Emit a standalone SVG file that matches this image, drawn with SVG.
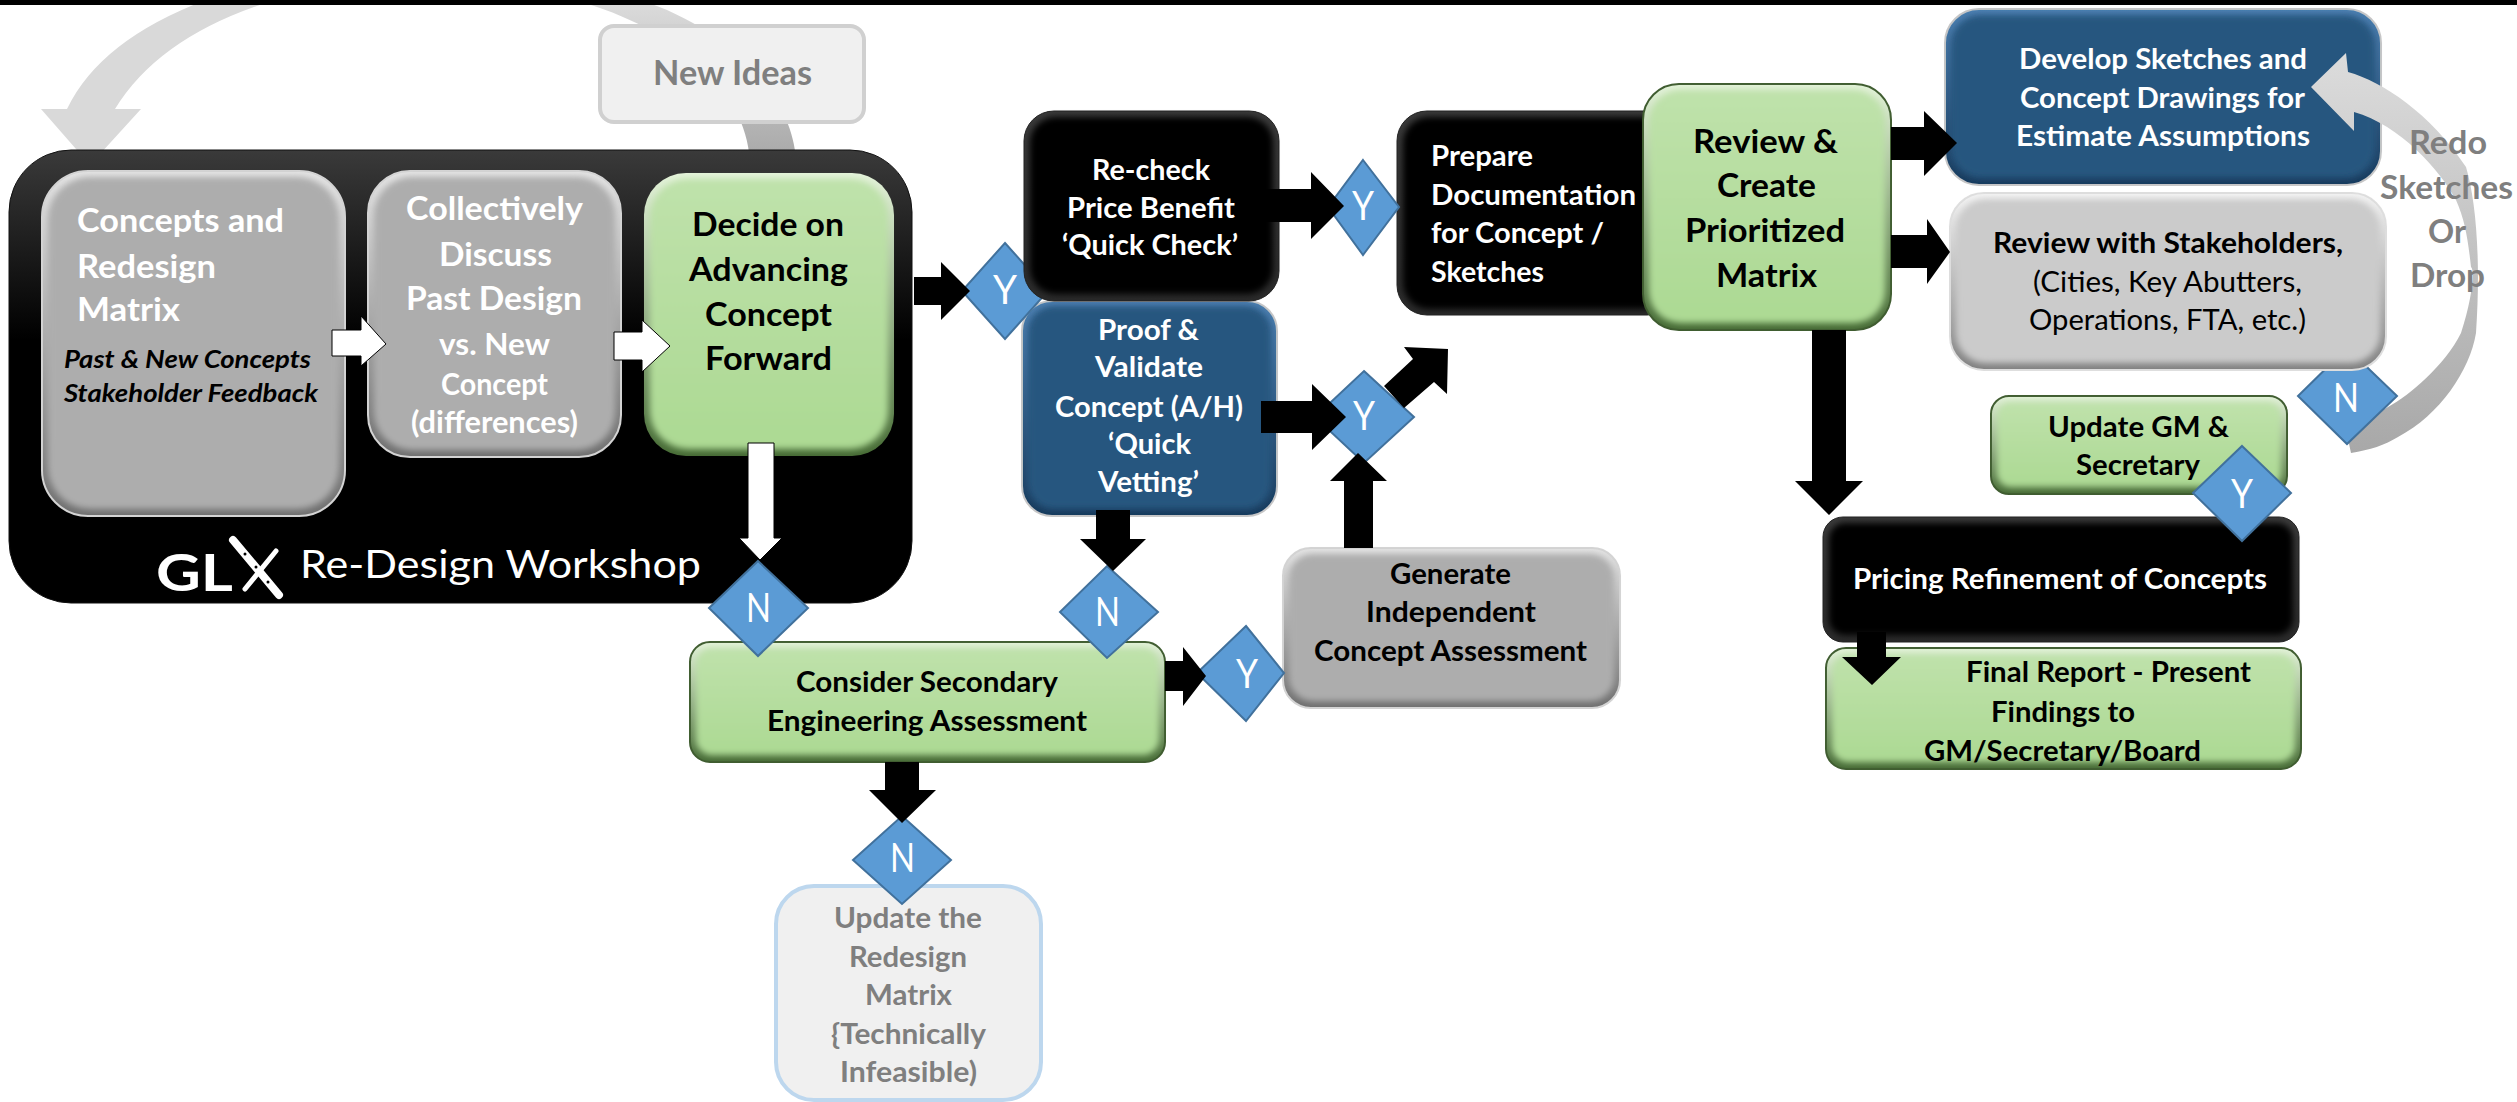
<svg xmlns="http://www.w3.org/2000/svg" width="2517" height="1102" viewBox="0 0 2517 1102">
<defs>
<style>
text{font-family:"Lato","Liberation Sans",sans-serif;font-weight:700;text-anchor:start}
.s26{font-size:28px}.s28{font-size:29.5px}.s31{font-size:33px}.s32{font-size:34px}.s23{font-size:24.5px;font-style:italic}
.wt{fill:#fff}.bk{fill:#000}.gy{fill:#7f7f7f}.rg{font-weight:400}
.lt{font-size:41px;font-weight:400;fill:#fff}
.face{filter:url(#soft)}
.d{fill:#5b9bd5;stroke:#41719c;stroke-width:2}
.k{fill:#000}.w{fill:#fff;stroke:#000;stroke-width:1}
.gEdge{fill:url(#eGray);stroke:#d4d4d4;stroke-width:2}.gFace{fill:#adadad}
.lEdge{fill:url(#eLight);stroke:#dedede;stroke-width:2}.lFace{fill:#cbcbcb}
.nEdge{fill:url(#eGreen);stroke:#3f5c30;stroke-width:2}.nFace{fill:url(#fGreen)}
.bEdge{fill:url(#eBlue);stroke:#c8c8c8;stroke-width:2}.bFace{fill:#27567f}
.xEdge{fill:url(#eBlack);stroke:#222;stroke-width:1}.xFace{fill:#000}
</style>
<filter id="soft" x="-10%" y="-10%" width="120%" height="120%"><feGaussianBlur stdDeviation="3"/></filter>
<linearGradient id="eGray" x1="0" y1="0" x2="0" y2="1"><stop offset="0" stop-color="#e4e4e4"/><stop offset="1" stop-color="#6f6f6f"/></linearGradient>
<linearGradient id="eLight" x1="0" y1="0" x2="0" y2="1"><stop offset="0" stop-color="#f4f4f4"/><stop offset="1" stop-color="#808080"/></linearGradient>
<linearGradient id="eGreen" x1="0" y1="0" x2="0" y2="1"><stop offset="0" stop-color="#e4f3da"/><stop offset="1" stop-color="#466b35"/></linearGradient>
<linearGradient id="fGreen" x1="0" y1="0" x2="0" y2="1"><stop offset="0" stop-color="#bfe2ab"/><stop offset="1" stop-color="#acd993"/></linearGradient>
<linearGradient id="eBlue" x1="0" y1="0" x2="0" y2="1"><stop offset="0" stop-color="#4d80b2"/><stop offset="1" stop-color="#173a5c"/></linearGradient>
<linearGradient id="eBlack" x1="0" y1="0" x2="0" y2="1"><stop offset="0" stop-color="#3a3a3a"/><stop offset="1" stop-color="#2a2a2a"/></linearGradient>
<linearGradient id="wsFill" x1="0" y1="0" x2="0" y2="1"><stop offset="0" stop-color="#3a3a3a"/><stop offset="0.42" stop-color="#000"/><stop offset="1" stop-color="#000"/></linearGradient>
<linearGradient id="arc" x1="0" y1="0" x2="0" y2="1"><stop offset="0" stop-color="#dcdcdc"/><stop offset="1" stop-color="#a8a8a8"/></linearGradient>
</defs>
<rect width="2517" height="1102" fill="#fff"/>
<g id="connectors-back">
<path d="M206,0 Q100,40 67,109 L41,109 L90,165 L141,109 L115,109 Q160,35 275,0 Z" fill="#d9d9d9"/>
<path d="M575,0 C680,30 745,90 750,160 L796,160 C792,90 720,25 640,0 Z" fill="url(#arc)"/>
</g>
<rect id="top-bar" x="0" y="0" width="2517" height="5" fill="#000"/>

<g id="node-workshop">
<rect x="9" y="150" width="903" height="453" rx="62" fill="url(#wsFill)" stroke="#111"/>
<text x="156" y="591" font-size="52" class="wt" textLength="77" lengthAdjust="spacingAndGlyphs">GL</text>
<line x1="233" y1="540" x2="279" y2="595" stroke="#fff" stroke-width="8" stroke-linecap="round"/>
<line x1="276" y1="551" x2="245" y2="589" stroke="#fff" stroke-width="5" stroke-linecap="round"/>
<circle cx="245" cy="554" r="1.5" fill="#000"/><circle cx="256" cy="567" r="1.5" fill="#000"/><circle cx="268" cy="582" r="1.5" fill="#000"/>
<text x="300" y="578" font-size="39" class="wt rg" textLength="401" lengthAdjust="spacingAndGlyphs">Re-Design Workshop</text>
</g>
<g id="node-new-ideas">
<rect x="600" y="26" width="264" height="96" rx="14" fill="#f0f0f0" stroke="#d0d0d0" stroke-width="4"/>
<text x="653" y="85" class="s32 gy" textLength="159" lengthAdjust="spacingAndGlyphs">New Ideas</text>
</g>
<g id="node-concepts">
<rect class="gEdge" x="42" y="171" width="303" height="345" rx="46"/><rect class="gFace face" x="48" y="177" width="291" height="332" rx="42"/>
<text x="77" y="232" class="s31 wt" textLength="207" lengthAdjust="spacingAndGlyphs">Concepts and</text>
<text x="77" y="278" class="s31 wt" textLength="139" lengthAdjust="spacingAndGlyphs">Redesign</text>
<text x="77" y="321" class="s31 wt" textLength="103" lengthAdjust="spacingAndGlyphs">Matrix</text>
<text x="64" y="368" class="s23 bk" textLength="247" lengthAdjust="spacingAndGlyphs">Past &amp; New Concepts</text>
<text x="64" y="402" class="s23 bk" textLength="254" lengthAdjust="spacingAndGlyphs">Stakeholder Feedback</text>
</g>
<g id="node-discuss">
<rect class="gEdge" x="368" y="171" width="253" height="286" rx="42"/><rect class="gFace face" x="374" y="177" width="241" height="273" rx="38"/>
<text x="406" y="220" class="s31 wt" textLength="177" lengthAdjust="spacingAndGlyphs">Collectively</text>
<text x="439" y="266" class="s31 wt" textLength="113" lengthAdjust="spacingAndGlyphs">Discuss</text>
<text x="406" y="310" class="s31 wt" textLength="176" lengthAdjust="spacingAndGlyphs">Past Design</text>
<text x="439" y="355" class="s28 wt" textLength="111" lengthAdjust="spacingAndGlyphs">vs. New</text>
<text x="441" y="395" class="s28 wt" textLength="107" lengthAdjust="spacingAndGlyphs">Concept</text>
<text x="411" y="433" class="s28 wt" textLength="167" lengthAdjust="spacingAndGlyphs">(differences)</text>
</g>
<g id="node-decide">
<rect class="nEdge" x="644" y="173" width="250" height="283" rx="42" style="stroke:none"/><rect class="nFace face" x="650" y="179" width="238" height="270" rx="38"/>
<text x="692" y="236" class="s31 bk" textLength="152" lengthAdjust="spacingAndGlyphs">Decide on</text>
<text x="689" y="281" class="s31 bk" textLength="159" lengthAdjust="spacingAndGlyphs">Advancing</text>
<text x="705" y="326" class="s31 bk" textLength="127" lengthAdjust="spacingAndGlyphs">Concept</text>
<text x="705" y="370" class="s31 bk" textLength="127" lengthAdjust="spacingAndGlyphs">Forward</text>
</g>
<g id="node-proof">
<rect class="bEdge" x="1022" y="301" width="255" height="215" rx="30"/><rect class="bFace face" x="1028" y="306" width="243" height="203" rx="26"/>
<text x="1098" y="340" class="s26 wt" textLength="101" lengthAdjust="spacingAndGlyphs">Proof &amp;</text>
<text x="1095" y="377" class="s26 wt" textLength="108" lengthAdjust="spacingAndGlyphs">Validate</text>
<text x="1055" y="417" class="s26 wt" textLength="188" lengthAdjust="spacingAndGlyphs">Concept (A/H)</text>
<text x="1108" y="454" class="s26 wt" textLength="83" lengthAdjust="spacingAndGlyphs">‘Quick</text>
<text x="1098" y="492" class="s26 wt" textLength="101" lengthAdjust="spacingAndGlyphs">Vetting’</text>
</g>
<g id="node-prepare">
<rect class="xEdge" x="1397" y="111" width="280" height="204" rx="30"/><rect class="xFace face" x="1403" y="117" width="268" height="192" rx="26"/>
<text x="1431" y="166" class="s26 wt" textLength="102" lengthAdjust="spacingAndGlyphs">Prepare</text>
<text x="1431" y="205" class="s26 wt" textLength="205" lengthAdjust="spacingAndGlyphs">Documentation</text>
<text x="1431" y="243" class="s26 wt" textLength="173" lengthAdjust="spacingAndGlyphs">for Concept /</text>
<text x="1431" y="282" class="s26 wt" textLength="113" lengthAdjust="spacingAndGlyphs">Sketches</text>
</g>
<g id="node-review">
<rect class="nEdge" x="1643" y="84" width="248" height="246" rx="36"/><rect class="nFace face" x="1649" y="90" width="236" height="233" rx="32"/>
<text x="1693" y="153" class="s31 bk" textLength="145" lengthAdjust="spacingAndGlyphs">Review &amp;</text>
<text x="1717" y="197" class="s31 bk" textLength="99" lengthAdjust="spacingAndGlyphs">Create</text>
<text x="1685" y="242" class="s31 bk" textLength="160" lengthAdjust="spacingAndGlyphs">Prioritized</text>
<text x="1716" y="287" class="s31 bk" textLength="101" lengthAdjust="spacingAndGlyphs">Matrix</text>
</g>
<g id="node-develop">
<rect class="bEdge" x="1945" y="9" width="436" height="176" rx="34"/><rect class="bFace face" x="1951" y="15" width="424" height="163" rx="30"/>
<text x="2019" y="69" class="s26 wt" textLength="288" lengthAdjust="spacingAndGlyphs">Develop Sketches and</text>
<text x="2020" y="108" class="s26 wt" textLength="285" lengthAdjust="spacingAndGlyphs">Concept Drawings for</text>
<text x="2016" y="146" class="s26 wt" textLength="294" lengthAdjust="spacingAndGlyphs">Estimate Assumptions</text>
</g>
<g id="connector-redo">
<path d="M2311,87 L2346,53 L2348,72 C2383,82 2430,113 2466,167 C2476,200 2481,260 2476,333 C2470,370 2440,415 2398,437 C2385,445 2370,450 2351,453 L2346,430 L2388,407 C2410,395 2445,365 2461,333 C2472,300 2475,270 2471,267 C2468,240 2465,220 2456,200 C2440,170 2400,125 2354,112 L2354,131 Z" fill="url(#arc)"/>
</g>
<g id="decision-n4"><polygon class="d" points="2347,348 2397,396 2347,444 2298,396"/><text x="2333" y="412" class="lt" textLength="26" lengthAdjust="spacingAndGlyphs">N</text></g>
<g id="node-stakeholders">
<rect class="lEdge" x="1950" y="193" width="436" height="177" rx="34"/><rect class="lFace face" x="1956" y="199" width="424" height="164" rx="30"/>
<text x="1993" y="253" class="s26 bk" textLength="350" lengthAdjust="spacingAndGlyphs">Review with Stakeholders,</text>
<text x="2033" y="292" class="s26 bk rg" textLength="269" lengthAdjust="spacingAndGlyphs">(Cities, Key Abutters,</text>
<text x="2029" y="330" class="s26 bk rg" textLength="277" lengthAdjust="spacingAndGlyphs">Operations, FTA, etc.)</text>
</g>
<g id="node-update-gm">
<rect class="nEdge" x="1991" y="396" width="296" height="98" rx="18"/><rect class="nFace face" x="1997" y="402" width="284" height="85" rx="14"/>
<text x="2048" y="437" class="s26 bk" textLength="181" lengthAdjust="spacingAndGlyphs">Update GM &amp;</text>
<text x="2076" y="475" class="s26 bk" textLength="124" lengthAdjust="spacingAndGlyphs">Secretary</text>
</g>
<g id="node-pricing">
<rect class="xEdge" x="1823" y="517" width="476" height="125" rx="20"/><rect class="xFace face" x="1829" y="523" width="464" height="112" rx="16"/>
<text x="1853" y="589" class="s26 wt" textLength="414" lengthAdjust="spacingAndGlyphs">Pricing Refinement of Concepts</text>
</g>
<g id="node-final">
<rect class="nEdge" x="1826" y="648" width="475" height="121" rx="20"/><rect class="nFace face" x="1832" y="654" width="463" height="108" rx="16"/>
<text x="1966" y="682" class="s26 bk" textLength="285" lengthAdjust="spacingAndGlyphs">Final Report - Present</text>
<text x="1991" y="722" class="s26 bk" textLength="144" lengthAdjust="spacingAndGlyphs">Findings to</text>
<text x="1924" y="761" class="s26 bk" textLength="277" lengthAdjust="spacingAndGlyphs">GM/Secretary/Board</text>
</g>
<g id="node-consider">
<rect class="nEdge" x="690" y="642" width="475" height="120" rx="20"/><rect class="nFace face" x="696" y="648" width="463" height="107" rx="16"/>
<text x="796" y="692" class="s26 bk" textLength="262" lengthAdjust="spacingAndGlyphs">Consider Secondary</text>
<text x="767" y="731" class="s26 bk" textLength="320" lengthAdjust="spacingAndGlyphs">Engineering Assessment</text>
</g>
<g id="node-generate">
<rect class="gEdge" x="1283" y="548" width="337" height="160" rx="28"/><rect class="gFace face" x="1289" y="554" width="325" height="147" rx="24"/>
<text x="1390" y="584" class="s26 bk" textLength="121" lengthAdjust="spacingAndGlyphs">Generate</text>
<text x="1366" y="622" class="s26 bk" textLength="170" lengthAdjust="spacingAndGlyphs">Independent</text>
<text x="1314" y="661" class="s26 bk" textLength="273" lengthAdjust="spacingAndGlyphs">Concept Assessment</text>
</g>
<g id="node-update-matrix">
<rect x="776" y="886" width="265" height="214" rx="38" fill="#f0f0f0" stroke="#bdd7ee" stroke-width="4"/>
<text x="834" y="928" class="s26 gy" textLength="148" lengthAdjust="spacingAndGlyphs">Update the</text>
<text x="849" y="967" class="s26 gy" textLength="118" lengthAdjust="spacingAndGlyphs">Redesign</text>
<text x="865" y="1005" class="s26 gy" textLength="87" lengthAdjust="spacingAndGlyphs">Matrix</text>
<text x="831" y="1044" class="s26 gy" textLength="155" lengthAdjust="spacingAndGlyphs">{Technically</text>
<text x="840" y="1082" class="s26 gy" textLength="137" lengthAdjust="spacingAndGlyphs">Infeasible)</text>
</g>
<g id="decision-y1"><polygon class="d" points="1005,243 1048,291 1005,339 962,291"/><text x="993" y="304" class="lt" textLength="24" lengthAdjust="spacingAndGlyphs">Y</text></g>
<g id="decision-y2"><polygon class="d" points="1363,160 1399,207 1363,255 1328,207"/><text x="1352" y="220" class="lt" textLength="22" lengthAdjust="spacingAndGlyphs">Y</text></g>
<g id="decision-y3"><polygon class="d" points="1364,371 1414,417 1364,463 1315,417"/><text x="1353" y="430" class="lt" textLength="22" lengthAdjust="spacingAndGlyphs">Y</text></g>
<g id="decision-y4"><polygon class="d" points="1246,626 1284,673 1246,721 1197,673"/><text x="1236" y="688" class="lt" textLength="22" lengthAdjust="spacingAndGlyphs">Y</text></g>
<g id="decision-y5"><polygon class="d" points="2242,446 2291,493 2242,541 2193,493"/><text x="2231" y="508" class="lt" textLength="22" lengthAdjust="spacingAndGlyphs">Y</text></g>
<g id="decision-n1"><polygon class="d" points="758,561 808,608 758,656 709,608"/><text x="746" y="622" class="lt" textLength="25" lengthAdjust="spacingAndGlyphs">N</text></g>
<g id="decision-n2"><polygon class="d" points="1107,566 1158,612 1107,658 1060,612"/><text x="1095" y="626" class="lt" textLength="25" lengthAdjust="spacingAndGlyphs">N</text></g>
<g id="decision-n3"><polygon class="d" points="902,816 951,860 902,904 853,860"/><text x="890" y="872" class="lt" textLength="25" lengthAdjust="spacingAndGlyphs">N</text></g>
<g id="node-recheck">
<rect class="xEdge" x="1024" y="111" width="255" height="190" rx="30"/><rect class="xFace face" x="1030" y="117" width="243" height="177" rx="26"/>
<text x="1092" y="180" class="s26 wt" textLength="118" lengthAdjust="spacingAndGlyphs">Re-check</text>
<text x="1067" y="218" class="s26 wt" textLength="168" lengthAdjust="spacingAndGlyphs">Price Benefit</text>
<text x="1062" y="255" class="s26 wt" textLength="176" lengthAdjust="spacingAndGlyphs">‘Quick Check’</text>
</g>
<g id="connectors">
<polygon class="w" points="332,330 361,330 361,316 386,344 361,366 361,356 332,356"/>
<polygon class="w" points="614,332 642,332 642,320 670,346 642,372 642,360 614,360"/>
<polygon class="w" points="748,443 774,443 774,538 782,538 760,560 739,538 748,538"/>
<polygon class="k" points="914,277 941,277 941,262 970,291 941,320 941,305 914,305"/>
<polygon class="k" points="1260,189 1311,189 1311,172 1344,206 1311,239 1311,222 1260,222"/>
<polygon class="k" points="1261,401 1312,401 1312,384 1346,417 1312,450 1312,433 1261,433"/>
<polygon class="k" points="1448,349 1404,347 1413,359 1384,386 1404,408 1434,382 1447,394"/>
<polygon class="k" points="1344,548 1373,548 1373,481 1387,481 1358,453 1330,481 1344,481"/>
<polygon class="k" points="1096,510 1130,510 1130,539 1146,539 1113,571 1080,539 1096,539"/>
<polygon class="k" points="1165,661 1183,661 1183,647 1206,676 1183,706 1183,691 1165,691"/>
<polygon class="k" points="885,762 919,762 919,790 936,790 902,823 869,790 885,790"/>
<polygon class="k" points="1891,127 1924,127 1924,111 1957,143 1924,176 1924,160 1891,160"/>
<polygon class="k" points="1891,235 1927,235 1927,219 1950,252 1927,284 1927,268 1891,268"/>
<polygon class="k" points="1812,330 1846,330 1846,481 1863,481 1829,515 1795,481 1812,481"/>
<polygon class="k" points="1857,632 1886,632 1886,657 1901,657 1872,685 1842,657 1857,657"/>
</g>
<g id="label-redo">
<text x="2409" y="154" class="s31 gy" textLength="78" lengthAdjust="spacingAndGlyphs">Redo</text>
<text x="2380" y="199" class="s31 gy" textLength="133" lengthAdjust="spacingAndGlyphs">Sketches</text>
<text x="2428" y="243" class="s31 gy" textLength="38" lengthAdjust="spacingAndGlyphs">Or</text>
<text x="2410" y="287" class="s31 gy" textLength="75" lengthAdjust="spacingAndGlyphs">Drop</text>
</g>
</svg>
